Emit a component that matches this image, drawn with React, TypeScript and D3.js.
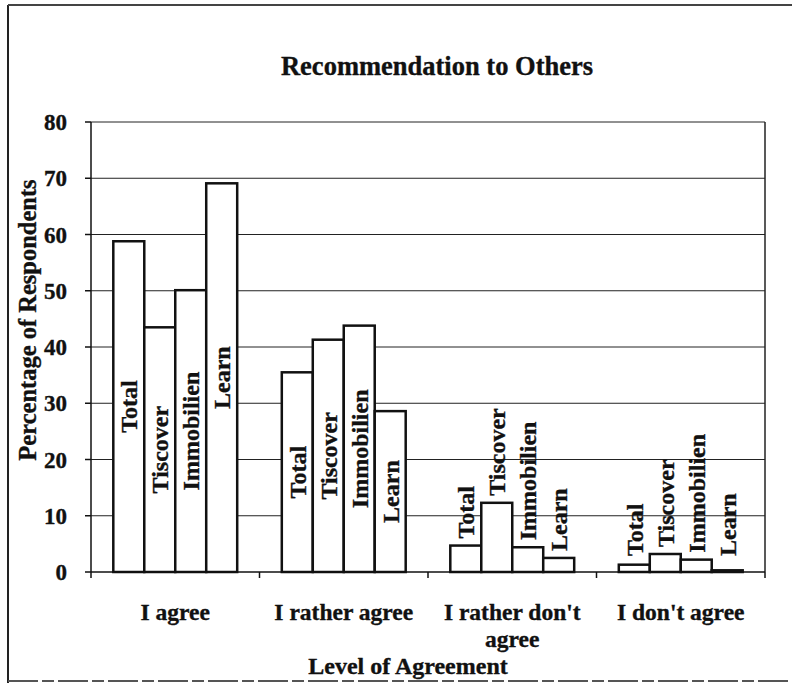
import React, { useEffect, useRef } from 'react';
import * as d3 from 'd3';

// values (percent of respondents)
const categories = ["I agree", "I rather agree", "I rather don't agree", "I don't agree"];
const seriesNames = ["Total", "Tiscover", "Immobilien", "Learn"];
const total = [58.8, 35.5, 4.7, 1.3];
const tiscover = [43.5, 41.3, 12.3, 3.2];
const immobilien = [50.1, 43.8, 4.4, 2.2];
const learn = [69.1, 28.6, 2.5, 0.3];
const yTicks = [0, 10, 20, 30, 40, 50, 60, 70, 80];

const seriesValues = [total, tiscover, immobilien, learn];

const W = 792;
const H = 683;
const FONT = "'Liberation Serif', 'Times New Roman', serif";

export default function App() {
  const svgRef = useRef<SVGSVGElement | null>(null);

  useEffect(() => {
    const svg = d3.select(svgRef.current);
    svg.selectAll('*').remove();

    const left = 91, right = 765, top = 122, bottom = 572;

    const x = d3.scaleBand<string>().domain(categories).range([left, right]).padding(0);
    const xs = d3.scaleBand<string>().domain(seriesNames).range([0, x.bandwidth()]).paddingInner(0).paddingOuter(0.72);
    const y = d3.scaleLinear().domain([0, 80]).range([bottom, top]);

    // bold serif text, a touch heavier like the scan
    const boldText = (sel: any, size: number) => sel
      .style('font-family', FONT).style('font-weight', 'bold').style('font-size', size + 'px')
      .attr('fill', '#111').attr('stroke', '#111').attr('stroke-width', 0.35);

    // outer frame (right side is cut off in the scan)
    svg.append('line').attr('x1', 8).attr('x2', 8).attr('y1', 5).attr('y2', H)
      .attr('stroke', '#222').attr('stroke-width', 2);
    svg.append('line').attr('x1', 8).attr('x2', W).attr('y1', 5).attr('y2', 5)
      .attr('stroke', '#444').attr('stroke-width', 2);
    svg.append('line').attr('x1', 8).attr('x2', W).attr('y1', 681).attr('y2', 681)
      .attr('stroke', '#555').attr('stroke-width', 2).attr('stroke-dasharray', '30 4 12 4');

    // title
    boldText(svg.append('text')
      .attr('x', 437).attr('y', 75)
      .attr('text-anchor', 'middle'), 26.5)
      .text('Recommendation to Others');

    // gridlines
    svg.append('g').selectAll('line')
      .data(yTicks.filter(d => d > 0))
      .join('line')
      .attr('x1', left).attr('x2', right)
      .attr('y1', d => y(d)).attr('y2', d => y(d))
      .attr('stroke', '#222').attr('stroke-width', 1);

    // plot area right border
    svg.append('line').attr('x1', right).attr('x2', right).attr('y1', top).attr('y2', bottom)
      .attr('stroke', '#222').attr('stroke-width', 1.5);

    // bars + labels
    const groups = svg.append('g').selectAll('g')
      .data(categories)
      .join('g')
      .attr('transform', d => 'translate(' + x(d) + ',0)');

    groups.each(function (cat, ci) {
      const g = d3.select(this);
      const rows = seriesNames.map((s, si) => ({ name: s, value: seriesValues[si][ci] }));

      g.selectAll('rect')
        .data(rows)
        .join('rect')
        .attr('x', d => xs(d.name)!)
        .attr('y', d => y(d.value))
        .attr('width', xs.bandwidth())
        .attr('height', d => y(0) - y(d.value))
        .attr('fill', 'white')
        .attr('stroke', '#111')
        .attr('stroke-width', 2.5);

      const labels = boldText(g.selectAll('text')
        .data(rows)
        .join('text'), 24)
        .attr('dy', '0.35em')
        .text(d => d.name);

      labels.each(function (d) {
        const t = d3.select(this);
        const len = (this as SVGTextElement).getComputedTextLength();
        const cx = xs(d.name)! + xs.bandwidth() / 2;
        const barH = y(0) - y(d.value);
        if (len + 10 < barH) {
          const cy = (y(0) + y(d.value)) / 2;
          t.attr('text-anchor', 'middle')
            .attr('transform', 'translate(' + cx + ',' + cy + ') rotate(-90)');
        } else {
          const by = Math.min(y(d.value) - 7, bottom - 16);
          t.attr('text-anchor', 'start')
            .attr('transform', 'translate(' + cx + ',' + by + ') rotate(-90)');
        }
      });
    });

    // y axis
    svg.append('line').attr('x1', left).attr('x2', left).attr('y1', top).attr('y2', bottom)
      .attr('stroke', '#111').attr('stroke-width', 1.5);
    svg.append('g').selectAll('line')
      .data(yTicks)
      .join('line')
      .attr('x1', left - 6).attr('x2', left)
      .attr('y1', d => y(d)).attr('y2', d => y(d))
      .attr('stroke', '#111').attr('stroke-width', 1.5);
    boldText(svg.append('g').selectAll('text')
      .data(yTicks)
      .join('text')
      .attr('x', 67).attr('y', d => y(d))
      .attr('dy', '0.35em')
      .attr('text-anchor', 'end'), 23)
      .text(d => d);

    // x axis
    svg.append('line').attr('x1', left).attr('x2', right).attr('y1', bottom).attr('y2', bottom)
      .attr('stroke', '#111').attr('stroke-width', 1.5);
    const edges = categories.map(c => x(c)!).concat([right]);
    svg.append('g').selectAll('line')
      .data(edges)
      .join('line')
      .attr('x1', d => d).attr('x2', d => d)
      .attr('y1', bottom).attr('y2', bottom + 6)
      .attr('stroke', '#111').attr('stroke-width', 1.5);

    // category labels, wrapped to band width
    boldText(svg.append('g').selectAll('text')
      .data(categories)
      .join('text')
      .attr('text-anchor', 'middle'), 23.5)
      .each(function (d) {
        const t = d3.select(this);
        const cx = x(d)! + x.bandwidth() / 2;
        const words = d.split(' ');
        let line: string[] = [];
        let lineNo = 0;
        let tspan = t.append('tspan').attr('x', cx).attr('y', 620);
        words.forEach(w => {
          line.push(w);
          tspan.text(line.join(' '));
          if ((tspan.node() as SVGTSpanElement).getComputedTextLength() > x.bandwidth() - 10 && line.length > 1) {
            line.pop();
            tspan.text(line.join(' '));
            line = [w];
            lineNo++;
            tspan = t.append('tspan').attr('x', cx).attr('y', 620 + lineNo * 27).text(w);
          }
        });
      });

    // axis titles
    boldText(svg.append('text')
      .attr('x', 408).attr('y', 674)
      .attr('text-anchor', 'middle'), 24)
      .text('Level of Agreement');

    boldText(svg.append('text')
      .attr('transform', 'translate(27,320) rotate(-90)')
      .attr('dy', '0.35em')
      .attr('text-anchor', 'middle'), 24.5)
      .text('Percentage of Respondents');
  }, []);

  return (
    <svg ref={svgRef} width={W} height={H}
      style={{ position: 'absolute', left: 0, top: 0, background: 'white' }} />
  );
}
